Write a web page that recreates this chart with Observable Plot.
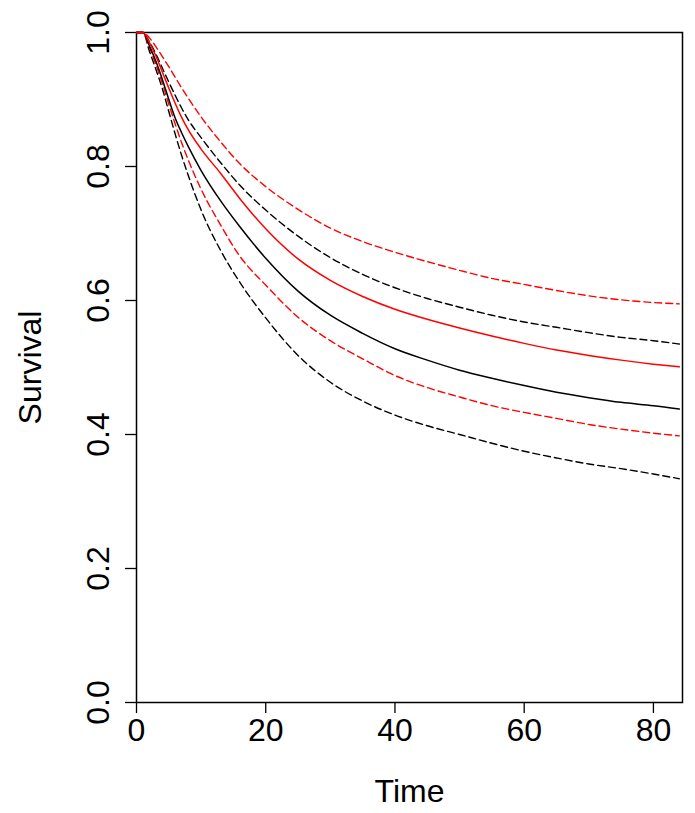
<!DOCTYPE html>
<html>
<head>
<meta charset="utf-8">
<script src="https://cdn.jsdelivr.net/npm/d3@7"></script>
<script src="https://cdn.jsdelivr.net/npm/@observablehq/plot@0.6"></script>
<style>
  html, body { margin: 0; padding: 0; background: #fff; }
  #chart svg { display: block; }
</style>
</head>
<body>
<div id="chart"></div>
<script>
// Time points (months) at which the curves were read
const times = [0, 1, 2, 3, 4, 5, 6, 7, 8, 10, 13, 16, 20, 25, 30, 35, 40, 45, 50, 55, 60, 65, 70, 75, 80, 84];

// Group 1 (black): estimate and confidence band
const blackEst   = [1, 1, 0.980, 0.957, 0.930, 0.900, 0.872, 0.850, 0.830, 0.794, 0.749, 0.710, 0.663, 0.614, 0.578, 0.551, 0.528, 0.511, 0.496, 0.484, 0.473, 0.463, 0.455, 0.448, 0.443, 0.438];
const blackUpper = [1, 1, 0.986, 0.968, 0.947, 0.926, 0.906, 0.887, 0.870, 0.843, 0.806, 0.772, 0.735, 0.696, 0.664, 0.639, 0.619, 0.603, 0.590, 0.578, 0.568, 0.560, 0.552, 0.545, 0.540, 0.535];
const blackLower = [1, 1, 0.972, 0.945, 0.916, 0.882, 0.848, 0.816, 0.787, 0.735, 0.675, 0.627, 0.574, 0.518, 0.478, 0.450, 0.429, 0.413, 0.400, 0.387, 0.375, 0.365, 0.356, 0.349, 0.341, 0.334];

// Group 2 (red): estimate and confidence band
const redEst   = [1, 1, 0.985, 0.965, 0.941, 0.917, 0.894, 0.873, 0.855, 0.826, 0.790, 0.752, 0.707, 0.662, 0.630, 0.606, 0.587, 0.572, 0.559, 0.547, 0.536, 0.526, 0.518, 0.511, 0.505, 0.501];
const redUpper = [1, 1, 0.992, 0.979, 0.964, 0.949, 0.933, 0.917, 0.902, 0.874, 0.837, 0.804, 0.770, 0.736, 0.708, 0.688, 0.672, 0.658, 0.645, 0.633, 0.624, 0.615, 0.607, 0.601, 0.597, 0.595];
const redLower = [1, 1, 0.978, 0.952, 0.924, 0.893, 0.863, 0.835, 0.810, 0.766, 0.713, 0.666, 0.623, 0.575, 0.540, 0.513, 0.488, 0.470, 0.456, 0.443, 0.433, 0.424, 0.415, 0.408, 0.402, 0.398];

const xTicks = [0, 20, 40, 60, 80];
const yTicks = [0, 0.2, 0.4, 0.6, 0.8, 1.0];

const series = [
  {name: "blackLower", values: blackLower, color: "#000000", dashed: true},
  {name: "blackUpper", values: blackUpper, color: "#000000", dashed: true},
  {name: "redLower",   values: redLower,   color: "#ff0000", dashed: true},
  {name: "redUpper",   values: redUpper,   color: "#ff0000", dashed: true},
  {name: "blackEst",   values: blackEst,   color: "#000000", dashed: false},
  {name: "redEst",     values: redEst,     color: "#ff0000", dashed: false}
];
const rows = s => times.map((t, i) => ({time: t, surv: s.values[i]}));

const font = "Liberation Sans, Arial, Helvetica, sans-serif";
const fs = 32;

const marks = [
  Plot.frame({stroke: "#000", strokeWidth: 1.5}),
  ...series.map(s => Plot.line(rows(s), {
    x: "time", y: "surv",
    stroke: s.color,
    strokeWidth: s.dashed ? 1.4 : 1.5,
    strokeDasharray: s.dashed ? "7,4" : null,
    curve: "monotone-x"
  })),
  Plot.axisX({ticks: xTicks, tickSize: 11, tickPadding: 5, fontSize: fs, tickFormat: d => String(d), stroke: "#000", strokeWidth: 1.3}),
  Plot.axisY({ticks: yTicks, tickSize: 11, tickFormat: () => "", stroke: "#000", strokeWidth: 1.3}),
  Plot.text(yTicks, {y: d => d, frameAnchor: "left", dx: -38, rotate: -90, text: d => d.toFixed(1), fontSize: fs, textAnchor: "middle", lineAnchor: "middle", fill: "#000"}),
  Plot.text(["Time"], {frameAnchor: "bottom", dy: 89, text: d => d, fontSize: fs, textAnchor: "middle", lineAnchor: "middle", fill: "#000"}),
  Plot.text(["Survival"], {frameAnchor: "left", dx: -106, rotate: -90, text: d => d, fontSize: fs, textAnchor: "middle", lineAnchor: "middle", fill: "#000"})
];

const chart = Plot.plot({
  width: 695,
  height: 813,
  marginLeft: 136,
  marginRight: 13,
  marginTop: 32,
  marginBottom: 111,
  style: {fontFamily: font, background: "#fff", color: "#000"},
  x: {domain: [0, 84.5], label: null},
  y: {domain: [0, 1], label: null},
  marks
});
document.getElementById("chart").appendChild(chart);
</script>
</body>
</html>
